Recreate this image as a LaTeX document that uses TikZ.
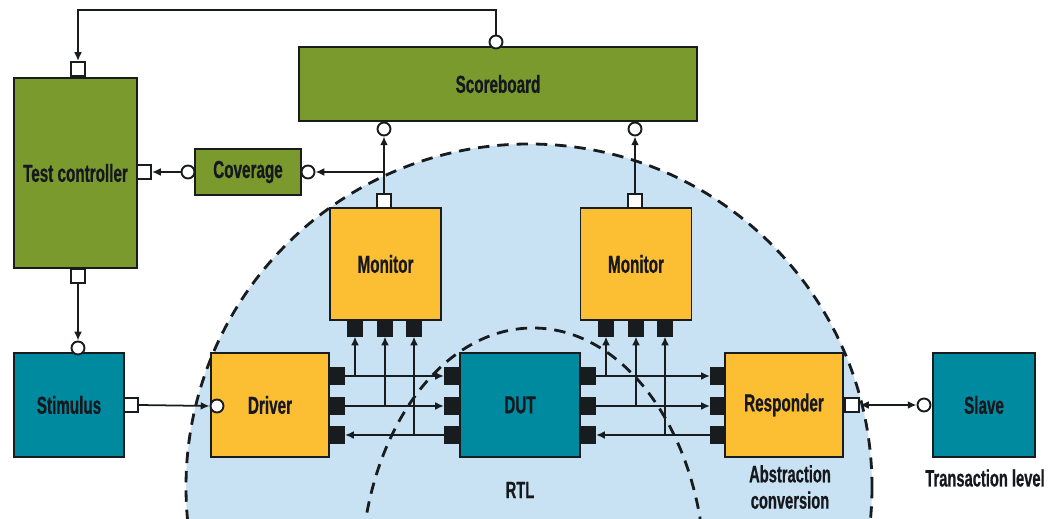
\documentclass[tikz,border=0pt]{standalone}
\usepackage{fontspec}
\setsansfont{Liberation Sans}[FakeStretch=0.62, BoldFeatures={FakeBold=0.6}]
\usetikzlibrary{arrows.meta}

\definecolor{boxgreen}{RGB}{122,154,46}
\definecolor{boxteal}{RGB}{0,138,160}
\definecolor{boxyellow}{RGB}{252,190,50}
\definecolor{zoneblue}{RGB}{200,226,243}
\definecolor{linec}{RGB}{25,28,30}
\definecolor{txt}{RGB}{22,24,30}

\begin{document}
\begin{tikzpicture}[x=0.02cm, y=-0.02cm,
    block/.style={draw=linec, line width=1.1pt, fill=#1, text=txt, align=center, inner sep=0pt,
        font=\sffamily\bfseries\fontsize{14}{16}\selectfont},
    wport/.style={draw=linec, line width=1.1pt, fill=white, minimum width=0.28cm, minimum height=0.28cm, inner sep=0pt},
    bport/.style={draw=linec, line width=0.6pt, fill=linec, minimum width=0.3cm, minimum height=0.32cm, inner sep=0pt},
    cport/.style={circle, draw=linec, line width=1.1pt, fill=white, minimum size=0.26cm, inner sep=0pt},
    label/.style={text=txt, align=center, font=\sffamily\bfseries\fontsize{13.5}{15}\selectfont},
    wire/.style={draw=linec, line width=1pt},
    arrow/.style={wire, -{Latex[length=5pt,width=4.5pt]}},
    bidir/.style={wire, {Latex[length=5pt,width=4.5pt]}-{Latex[length=5pt,width=4.5pt]}},
    zone/.style={draw=linec, line width=1.6pt, dash pattern=on 6.5pt off 4.5pt}
]
    \useasboundingbox (0,0) rectangle (1048,519);
    \fill[white] (0,0) rectangle (1048,519);
    \clip (0,0) rectangle (1048,519);

    % Zones
    \fill[zoneblue] (529,487) ellipse [x radius=343, y radius=343];
    \draw[zone] (529,487) ellipse [x radius=343, y radius=343];
    \draw[zone] (533,578) ellipse [x radius=172, y radius=250];

    % Blocks
    \node[block=boxgreen, minimum width=2.46cm, minimum height=3.8cm] (tc) at (75.5,173) {Test controller};
    \node[block=boxgreen, minimum width=7.96cm, minimum height=1.48cm] (score) at (498,84) {Scoreboard};
    \node[block=boxgreen, minimum width=2.12cm, minimum height=0.92cm] (cov) at (248,172) {Coverage};
    \node[block=boxyellow, minimum width=2.22cm, minimum height=2.24cm] (mon1) at (385.5,264) {Monitor};
    \node[block=boxyellow, minimum width=2.22cm, minimum height=2.24cm] (mon2) at (636,264) {Monitor};
    \node[block=boxteal, minimum width=2.2cm, minimum height=2.08cm] (stim) at (69,405) {Stimulus};
    \node[block=boxyellow, minimum width=2.36cm, minimum height=2.08cm] (drv) at (270,405) {Driver};
    \node[block=boxteal, minimum width=2.4cm, minimum height=2.08cm] (dut) at (520,405) {DUT};
    \node[block=boxyellow, minimum width=2.36cm, minimum height=2.08cm] (resp) at (784,405) {Responder};
    \node[block=boxteal, minimum width=2.04cm, minimum height=2.08cm] (slave) at (984,405) {Slave};

    % Labels
    \node[label] (rtl) at (520,490) {RTL};
    \node[label] (absconv) at (790,487) {Abstraction\\conversion};
    \node[label] (txlevel) at (985,478) {Transaction level};

    % Ports
    \node[wport] (tcT) at (78,69) {};
    \node[wport] (tcR) at (144,172) {};
    \node[wport] (tcB) at (78,276) {};
    \node[cport] (sbT) at (496,42) {};
    \node[cport] (sbB1) at (384,129) {};
    \node[cport] (sbB2) at (635,129) {};
    \node[cport] (covL) at (188,172) {};
    \node[cport] (covR) at (308,172) {};
    \node[wport] (m1T) at (384,201) {};
    \node[wport] (m2T) at (635,201) {};
    \node[cport] (stimT) at (78,348) {};
    \node[wport] (stimR) at (131,405) {};
    \node[cport] (drvL) at (217,406) {};
    \node[wport] (respR) at (852,405) {};
    \node[cport] (slaveL) at (924,405) {};
    \foreach \i/\x in {1/355, 2/385, 3/414} {
        \node[bport] (m1B\i) at (\x,328) {};
    }
    \foreach \i/\x in {1/606, 2/636, 3/665} {
        \node[bport] (m2B\i) at (\x,328) {};
    }
    \foreach \i/\y in {1/376, 2/406, 3/435} {
        \node[bport] (drv\i) at (337,\y) {};
        \node[bport] (dutL\i) at (452,\y) {};
        \node[bport] (dutR\i) at (588,\y) {};
        \node[bport] (resp\i) at (718,\y) {};
    }

    % Control loop
    \coordinate (top) at (0,10);
    \draw[arrow] (sbT.north) -- (sbT.north |- top) -| (tcT.north);
    \draw[arrow] (tcB.south) -- (stimT.north);
    \draw[arrow] (stimR.east) -- (drvL.west);

    % Monitors to scoreboard and coverage
    \draw[arrow] (m1T.north) -- (sbB1.south);
    \draw[arrow] (m1T.north |- covR) -- (covR.east);
    \draw[arrow] (covL.west) -- (tcR.east);
    \draw[arrow] (m2T.north) -- (sbB2.south);

    % Driver side buses
    \draw[arrow] (drv1.east) -- (dutL1.west);
    \draw[arrow] (drv2.east) -- (dutL2.west);
    \draw[arrow] (dutL3.west) -- (drv3.east);
    \foreach \i in {1,2,3} {
        \draw[arrow] (m1B\i.south |- drv\i) -- (m1B\i.south);
    }

    % Responder side buses
    \draw[arrow] (dutR1.east) -- (resp1.west);
    \draw[arrow] (dutR2.east) -- (resp2.west);
    \draw[arrow] (resp3.west) -- (dutR3.east);
    \foreach \i in {1,2,3} {
        \draw[arrow] (m2B\i.south |- dutR\i) -- (m2B\i.south);
    }

    % Transaction link
    \draw[bidir] (respR.east) -- (slaveL.west);
\end{tikzpicture}
\end{document}
